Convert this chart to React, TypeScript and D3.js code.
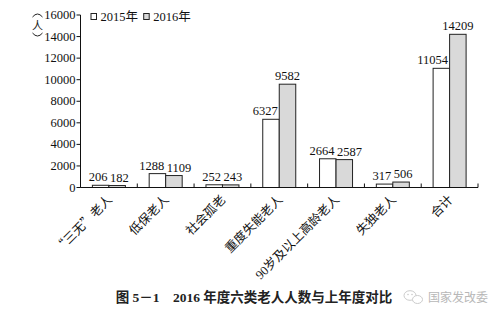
import React from "react";
import * as d3 from "d3";

const categories = ["“三无”老人", "低保老人", "社会孤老", "重度失能老人", "90岁及以上高龄老人", "失独老人", "合计"];
const series2015 = [206, 1288, 252, 6327, 2664, 317, 11054];
const series2016 = [182, 1109, 243, 9582, 2587, 506, 14209];
const seriesNames = ["2015年", "2016年"];
const yTicks = [0, 2000, 4000, 6000, 8000, 10000, 12000, 14000, 16000];

const W = 504;
const H = 319;
const left = 80.5;
const right = 478;
const top = 15;
const bottom = 187.5;
const serif = "'Liberation Serif', 'Times New Roman', 'Noto Sans CJK SC', serif";
const cjk = "'Noto Sans CJK SC', sans-serif";

// Curly quotes are set in the CJK face so they take a full-width slot.
function labelParts(s: string) {
  const parts: { t: string; wide: boolean }[] = [];
  for (const ch of s) {
    const wide = ch === "“" || ch === "”";
    const last = parts[parts.length - 1];
    if (last && last.wide === wide) last.t += ch;
    else parts.push({ t: ch, wide });
  }
  return parts;
}

export default function App() {
  const x = d3.scaleBand<string>().domain(categories).range([left, right]).paddingInner(0).paddingOuter(0);
  const y = d3.scaleLinear().domain([0, 16000]).range([bottom, top]);
  const bw = 16.5;
  const fills = ["#ffffff", "#d9d9d9"];
  const fs = 12.5;

  return (
    <div style={{ position: "absolute", left: 0, top: 0 }}>
      <svg width={W} height={H} style={{ display: "block", background: "#fff" }}>
        {/* bars with value labels */}
        {categories.map((c, i) => {
          const cx = (x(c) as number) + x.bandwidth() / 2;
          const v0 = series2015[i];
          const v1 = series2016[i];
          const y0 = y(v0);
          const y1 = y(v1);
          // labels sit side by side when the two bar tops are close
          const close = Math.abs(y0 - y1) < 14;
          return (
            <g key={c}>
              <rect x={cx - bw} y={y0} width={bw} height={bottom - y0} fill={fills[0]} stroke="#222" strokeWidth={1} />
              <rect x={cx} y={y1} width={bw} height={bottom - y1} fill={fills[1]} stroke="#222" strokeWidth={1} />
              <text x={cx - 1.5} y={y0 - 4} textAnchor="end" fontFamily={serif} fontSize={fs} fill="#111">
                {v0}
              </text>
              <text
                x={close ? cx + 1 : cx + bw / 2}
                y={y1 - 4}
                textAnchor={close ? "start" : "middle"}
                fontFamily={serif}
                fontSize={fs}
                fill="#111"
              >
                {v1}
              </text>
            </g>
          );
        })}
        {/* y axis */}
        <line x1={left} x2={left} y1={top} y2={bottom} stroke="#111" strokeWidth={1} />
        {yTicks.map((t) => (
          <g key={t}>
            <line x1={left - 4} x2={left} y1={y(t)} y2={y(t)} stroke="#111" />
            <text x={left - 5} y={y(t) + 4} textAnchor="end" fontFamily={serif} fontSize={fs} fill="#111">
              {t}
            </text>
          </g>
        ))}
        {/* y axis unit, written vertically */}
        <path d="M32.5,17 Q37.5,11 42.5,17" fill="none" stroke="#222" strokeWidth={1} />
        <text x={37.5} y={30} textAnchor="middle" fontFamily={cjk} fontSize={11} fill="#222">人</text>
        <path d="M32.5,33 Q37.5,39 42.5,33" fill="none" stroke="#222" strokeWidth={1} />
        {/* x axis */}
        <line x1={left} x2={right} y1={bottom} y2={bottom} stroke="#111" strokeWidth={1} />
        {categories.map((c) => (
          <line key={c} x1={x(c) as number} x2={x(c) as number} y1={bottom} y2={bottom - 4} stroke="#111" />
        ))}
        <line x1={right} x2={right} y1={bottom} y2={bottom - 4} stroke="#111" />
        {categories.map((c) => {
          const cx = (x(c) as number) + x.bandwidth() / 2;
          return (
            <text
              key={c}
              transform={`translate(${cx + 4},${bottom + 13}) rotate(-45)`}
              textAnchor="end"
              fontFamily={serif}
              fontSize={fs}
              fill="#111"
            >
              {labelParts(c).map((p, k) => (
                <tspan key={k} fontFamily={p.wide ? cjk : serif}>
                  {p.t}
                </tspan>
              ))}
            </text>
          );
        })}
        {/* legend */}
        {seriesNames.map((n, k) => (
          <g key={n} transform={`translate(${90.5 + k * 52.7},0)`}>
            <rect x={0.5} y={13.5} width={5.5} height={6} fill={fills[k]} stroke="#222" />
            <text x={10} y={20.5} fontFamily={serif} fontSize={fs} fill="#111">
              {n}
            </text>
          </g>
        ))}
        {/* caption */}
        <text x={254} y={302} textAnchor="middle" fontFamily={serif} fontSize={13.5} fontWeight="bold" fill="#222">
          图 5－1　2016 年度六类老人人数与上年度对比
        </text>
        {/* watermark */}
        <g opacity={0.6}>
          <ellipse cx={410} cy={295.5} rx={6} ry={4.8} fill="none" stroke="#aaa" />
          <ellipse cx={417.5} cy={299.5} rx={5} ry={4} fill="#fff" stroke="#aaa" />
          <circle cx={408} cy={294.5} r={0.8} fill="#aaa" />
          <circle cx={412} cy={294.5} r={0.8} fill="#aaa" />
          <text x={428} y={302} fontFamily={cjk} fontSize={12} fill="#888">
            国家发改委
          </text>
        </g>
      </svg>
    </div>
  );
}
